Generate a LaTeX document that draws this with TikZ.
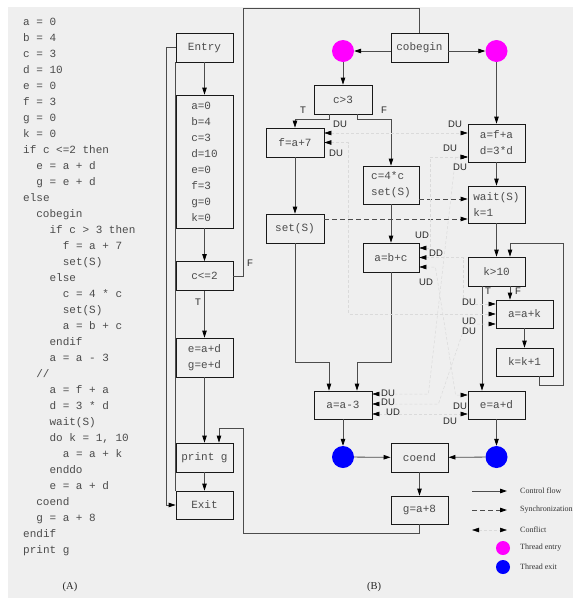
\documentclass[tikz,border=0pt]{standalone}
\usepackage{fontspec}
\setmainfont{Liberation Serif}
\setsansfont{Liberation Sans}
\setmonofont{Liberation Mono}
\usetikzlibrary{arrows.meta}
\definecolor{bg}{RGB}{239,239,239}
\definecolor{ink}{RGB}{75,75,75}
\definecolor{conf}{RGB}{218,218,218}
\definecolor{thentry}{RGB}{255,0,255}
\definecolor{thexit}{RGB}{0,0,255}
\begin{document}
\begin{tikzpicture}[x=1pt,y=-1pt,
  box/.style={draw=black!90, line width=0.8pt, inner sep=0pt, align=left,
    font=\ttfamily\fontsize{11}{16}\selectfont, text=ink,
    minimum width=57pt, minimum height=29pt},
  code/.style={anchor=base west, inner sep=0pt, font=\ttfamily\fontsize{11}{13}\selectfont, text=ink},
  lab/.style={inner sep=0pt, font=\sffamily\fontsize{9.5}{10}\selectfont, text=black!85},
  leg/.style={anchor=west, inner sep=0pt, font=\fontsize{8}{9}\selectfont, text=black!80},
  captxt/.style={inner sep=0pt, font=\fontsize{10.5}{12}\selectfont, text=black!85},
  tip/.tip={Triangle[length=7pt,width=4.5pt,color=black]},
  plain/.style={draw=black!70, line width=0.8pt},
  flow/.style={plain, -tip},
  sync/.style={draw=black!70, line width=0.8pt, dash pattern=on 5pt off 3pt, -tip},
  confl/.style={draw=conf, line width=0.5pt, dash pattern=on 3pt off 2pt, tip-tip},
  dotentry/.style={circle, fill=thentry, inner sep=0pt, minimum size=22pt},
  dotexit/.style={circle, fill=thexit, inner sep=0pt, minimum size=22pt}]
\useasboundingbox (0,0) rectangle (573,598);
\fill[bg] (8,7) rectangle (573,598);

% ---------------- code listing (A)
\node[code] (s01) at (23,25)  {a = 0};
\node[code] (s02) at (23,41)  {b = 4};
\node[code] (s03) at (23,57)  {c = 3};
\node[code] (s04) at (23,73)  {d = 10};
\node[code] (s05) at (23,89)  {e = 0};
\node[code] (s06) at (23,105) {f = 3};
\node[code] (s07) at (23,121) {g = 0};
\node[code] (s08) at (23,137) {k = 0};
\node[code] (s09) at (23,153) {if c <=2 then};
\node[code] (s10) at (36.2,169) {e = a + d};
\node[code] (s11) at (36.2,185) {g = e + d};
\node[code] (s12) at (23,201) {else};
\node[code] (s13) at (36.2,217) {cobegin};
\node[code] (s14) at (49.4,233) {if c > 3 then};
\node[code] (s15) at (62.6,249) {f = a + 7};
\node[code] (s16) at (62.6,265) {set(S)};
\node[code] (s17) at (49.4,281) {else};
\node[code] (s18) at (62.6,297) {c = 4 * c};
\node[code] (s19) at (62.6,313) {set(S)};
\node[code] (s20) at (62.6,329) {a = b + c};
\node[code] (s21) at (49.4,345) {endif};
\node[code] (s22) at (49.4,361) {a = a - 3};
\node[code] (s23) at (36.2,377) {//};
\node[code] (s24) at (49.4,393) {a = f + a};
\node[code] (s25) at (49.4,409) {d = 3 * d};
\node[code] (s26) at (49.4,425) {wait(S)};
\node[code] (s27) at (49.4,441) {do k = 1, 10};
\node[code] (s28) at (62.6,457) {a = a + k};
\node[code] (s29) at (49.4,473) {enddo};
\node[code] (s30) at (49.4,489) {e = a + d};
\node[code] (s31) at (36.2,505) {coend};
\node[code] (s32) at (36.2,521) {g = a + 8};
\node[code] (s33) at (23,537) {endif};
\node[code] (s34) at (23,553) {print g};
\node[captxt] (capA) at (70,587) {(A)};

% ---------------- left column of the graph
\node[box] (entry) at (204.5,47.5) {Entry};
\node[box, minimum height=133pt] (init) at (204.5,161.5) {a=0\\b=4\\c=3\\d=10\\e=0\\f=3\\g=0\\k=0};
\node[box] (c2) at (204.5,276) {c<=2};
\node[box, minimum height=39pt] (eg) at (204.5,357.5) {e=a+d\\g=e+d};
\node[box] (printg) at (204.5,457.5) {print g};
\node[box, minimum height=28pt] (exit) at (204.5,505) {Exit};

% ---------------- right part
\node[box] (cobegin) at (419.5,48) {cobegin};
\node[dotentry] (tel) at (343,51) {};
\node[dotentry] (ter) at (496.5,51) {};
\node[box, minimum width=58pt] (c3) at (343,99.5) {c>3};
\node[box, minimum width=58pt] (fa7) at (295,142.5) {f=a+7};
\node[box, minimum width=58pt] (set1) at (295,228.5) {set(S)};
\node[box, minimum width=56pt, minimum height=38pt] (c4c) at (391,185) {c=4*c\\set(S)};
\node[box, minimum width=56pt] (abc) at (391,257.5) {a=b+c};
\node[box, minimum width=58pt, minimum height=28pt] (aa3) at (343,405) {a=a-3};
\node[dotexit] (txl) at (343,457) {};
\node[dotexit] (txr) at (496.5,457) {};
\node[box] (coend) at (419.5,457.5) {coend};
\node[box, minimum height=28pt] (ga8) at (419.5,510) {g=a+8};
\node[box, minimum height=38pt] (afa) at (496.5,143) {a=f+a\\d=3*d};
\node[box, minimum height=37pt] (wait) at (496.5,204.5) {wait(S)\\k=1};
\node[box] (k10) at (496.5,271.5) {k>10};
\node[box, minimum height=28pt] (aak) at (524.5,314) {a=a+k};
\node[box, minimum height=28pt] (kk1) at (524.5,362) {k=k+1};
\node[box, minimum height=28pt] (ead) at (496.5,405) {e=a+d};

% ---------------- control flow, left column
\draw[flow] (entry) -- (init);
\draw[flow] (init) -- (c2);
\draw[flow] (c2) -- (eg);
\draw[flow] (eg) -- (printg);
\draw[flow] (printg) -- (exit);
\draw[flow] (entry.west) -- ++(-9,0) |- (exit.west);
\draw[plain] (entry.south west) -- (exit.north west);
\draw[plain] (c2.east) -- ++(10,0) -- ++(0,-268) -| (cobegin.north);
\draw[flow] (ga8.south) -- ++(0,9) -- ++(-176.5,0) -- ++(0,-105) -| ([xshift=14.5pt]printg.north);
\node[lab] (tl) at (198,302) {T};
\node[lab] (fl) at (250,263) {F};

% ---------------- control flow, threads
\draw[flow] (cobegin.west |- tel) -- (tel);
\draw[flow] (cobegin.east |- ter) -- (ter);
\draw[flow] (tel) -- (c3);
\draw[flow] ([xshift=-14pt]c3.south) -- ++(0,5) -| (fa7.north);
\draw[flow] ([xshift=14pt]c3.south) -- ++(0,5) -| (c4c.north);
\node[lab] (t3) at (303,110) {T};
\node[lab] (f3) at (384,110) {F};
\draw[flow] (fa7) -- (set1);
\draw[flow] (c4c) -- (abc);
\draw[flow] (set1.south) -- ++(0,119) -| ([xshift=-14pt]aa3.north);
\draw[flow] (abc.south) -- ++(0,90) -| ([xshift=14pt]aa3.north);
\draw[flow] (aa3) -- (txl);
\draw[flow] (txl) -- (coend);
\draw[flow] (txr) -- (coend);
\draw[flow] (coend) -- (ga8);
\draw[flow] (ter) -- (afa);
\draw[flow] (afa) -- (wait);
\draw[flow] (wait) -- (k10);
\draw[flow] ([xshift=13.5pt]k10.south) -- ([xshift=-14.5pt]aak.north);
\draw[flow] ([xshift=-14.5pt]k10.south) -- ([xshift=-14.5pt]ead.north);
\node[lab] (tk) at (488,291) {T};
\node[lab] (fk) at (518,291) {F};
\draw[flow] (aak) -- (kk1);
\draw[flow] ([xshift=14.5pt]kk1.south) -- ++(0,9) -- ++(24,0) -- ++(0,-142) -| ([xshift=13.5pt]k10.north);
\draw[flow] (ead) -- (txr);

% ---------------- synchronization
\draw[sync] ([yshift=-14pt]c4c.east) -- ([yshift=5.5pt]wait.west);
\draw[sync] ([yshift=9.5pt]set1.east) -- ([yshift=-14.5pt]wait.west);

% ---------------- conflicts
\draw[confl] ([yshift=9.5pt]fa7.east) -- ([yshift=10pt]afa.west);
\draw[confl] (fa7.east) -- ++(24,0) |- (aak.west);
\draw[confl] ([yshift=9.5pt]abc.east) -- ++(11,0) |- ([yshift=-14pt]afa.west);
\draw[confl] (abc.east) -- ++(44,0) |- ([yshift=10pt]aak.west);
\draw[confl] ([yshift=-9.5pt]abc.east) -- ++(16,0) -- ([xshift=-12pt,yshift=10pt]ead.west) -- ([yshift=10pt]ead.west);
\draw[confl] ([yshift=11pt]aa3.east) -- ++(56,0) -- ([xshift=-12pt,yshift=-14pt]afa.west) -- ([yshift=-14pt]afa.west);
\draw[confl] ([yshift=1pt]aa3.east) -- ++(66,0) -- ([xshift=-30pt,yshift=-10pt]aak.west) -- ([yshift=-10pt]aak.west);
\draw[confl] ([yshift=-9pt]aa3.east) -- ([yshift=-9pt]ead.west);

% ---------------- conflict labels
\node[lab] (d1) at (340,124) {DU};
\node[lab] (d2) at (336,153) {DU};
\node[lab] (d3) at (455,124) {DU};
\node[lab] (d4) at (450,148) {DU};
\node[lab] (d5) at (460,167) {DU};
\node[lab] (d6) at (422,235) {UD};
\node[lab] (d7) at (436,253) {DD};
\node[lab] (d8) at (426,282) {UD};
\node[lab] (d9) at (469,302) {DU};
\node[lab] (d10) at (469,321) {UD};
\node[lab] (d11) at (469,331) {DU};
\node[lab] (d12) at (388,393) {DU};
\node[lab] (d13) at (388,402) {DU};
\node[lab] (d14) at (393,412) {UD};
\node[lab] (d15) at (460,406) {DU};
\node[lab] (d16) at (450,421) {DU};

\node[captxt] (capB) at (374,587) {(B)};

% ---------------- legend
\coordinate (g1a) at (472,491); \coordinate (g1b) at (507,491);
\coordinate (g2a) at (472,510); \coordinate (g2b) at (507,510);
\coordinate (g3a) at (472,530); \coordinate (g3b) at (507,530);
\draw[flow] (g1a) -- (g1b);
\draw[sync] (g2a) -- (g2b);
\draw[confl] (g3a) -- (g3b);
\node[circle, fill=thentry, inner sep=0pt, minimum size=14pt] (gen) at (503,548) {};
\node[circle, fill=thexit, inner sep=0pt, minimum size=14pt] (gex) at (503,567) {};
\node[leg] (lt1) at (520,491) {Control flow};
\node[leg] (lt2) at (520,510) {Synchronization};
\node[leg] (lt3) at (520,530) {Conflict};
\node[leg] (lt4) at (520,548) {Thread entry};
\node[leg] (lt5) at (520,567) {Thread exit};
\end{tikzpicture}
\end{document}
